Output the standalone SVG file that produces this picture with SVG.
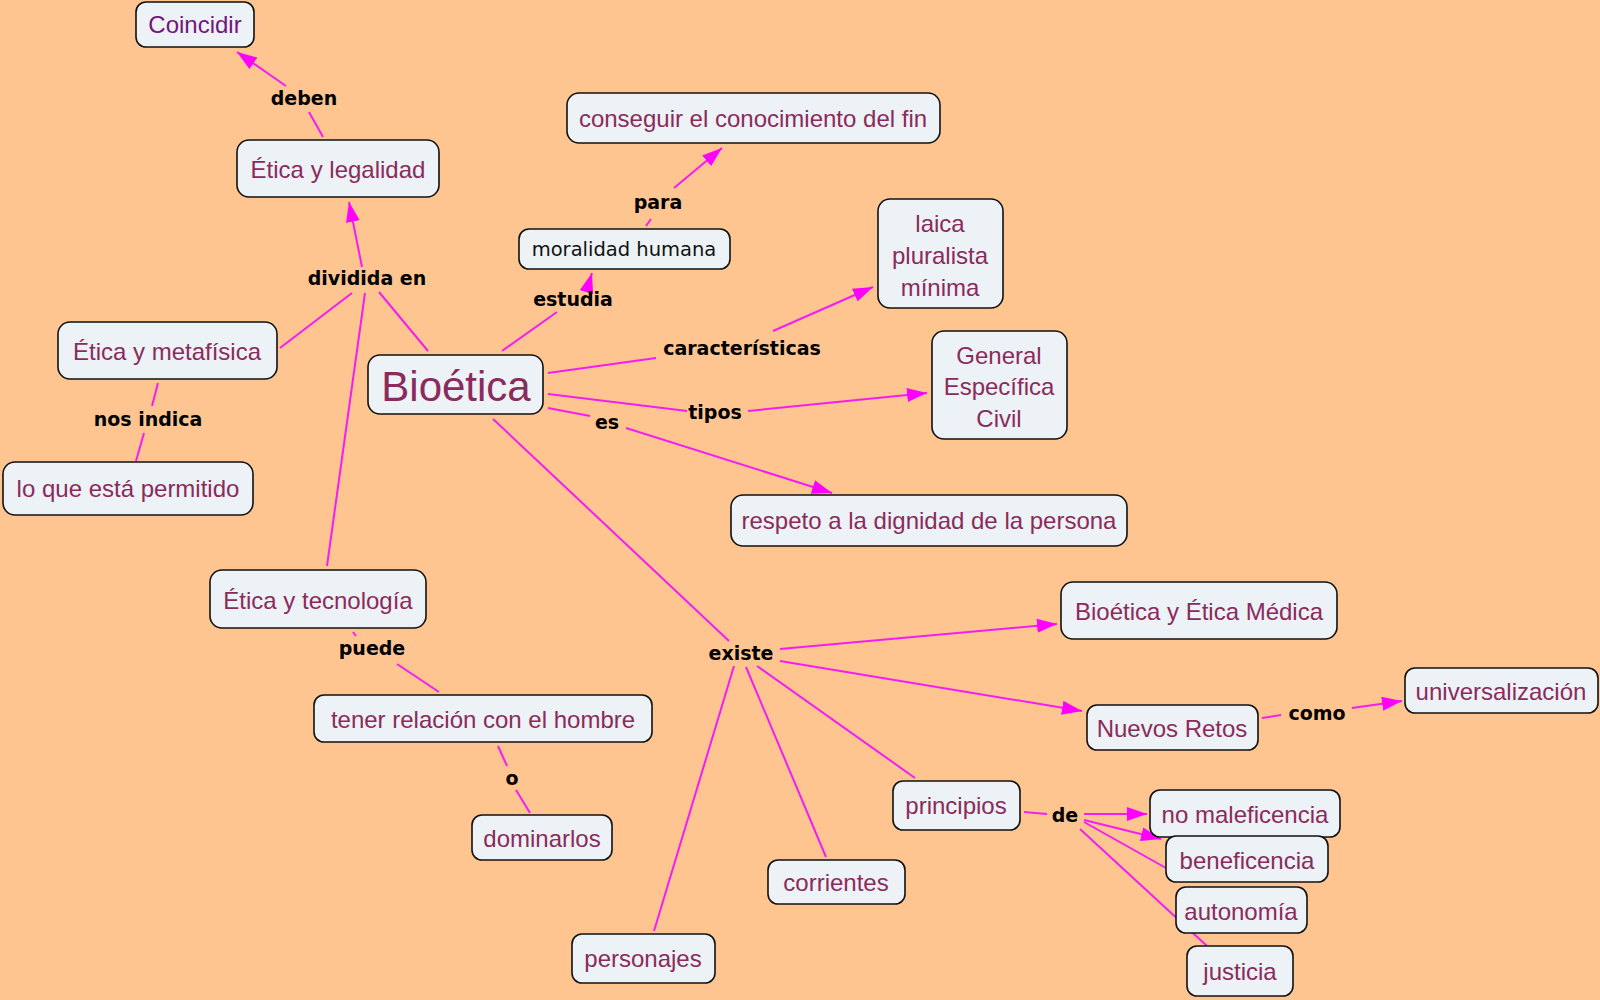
<svg xmlns="http://www.w3.org/2000/svg" width="1600" height="1000" viewBox="0 0 1600 1000">
<defs>
<marker id="ah" viewBox="0 0 20 14" refX="20" refY="7" markerWidth="20" markerHeight="14" orient="auto" markerUnits="userSpaceOnUse">
<path d="M0,0 L20,7 L0,14 z" fill="#ff00ff"/>
</marker>
<style>
.bg{fill:#fec591}
.n rect{fill:#edf2f6;stroke:#111;stroke-width:1.6}
.n text{font-family:"Liberation Sans","DejaVu Sans",sans-serif;font-size:24px;fill:#8a2b5c;text-anchor:middle;dominant-baseline:central}
.c line{stroke:#f21ef2;stroke-width:2;fill:none}
.c line.a{marker-end:url(#ah)}
.l text{font-family:"DejaVu Sans",sans-serif;font-weight:bold;font-size:19px;fill:#000;text-anchor:middle;dominant-baseline:central}
</style>
</defs>
<rect class="bg" x="0" y="0" width="1600" height="1000"/>
<g id="connectors" class="c">
<line x1="323" y1="137" x2="309" y2="112"/>
<line class="a" x1="286" y1="86" x2="237" y2="52"/>
<line x1="428" y1="351" x2="379" y2="292"/>
<line class="a" x1="362" y1="267" x2="349" y2="202"/>
<line x1="352" y1="293" x2="280" y2="348"/>
<line x1="365" y1="293" x2="327" y2="566"/>
<line x1="158" y1="383" x2="152" y2="406"/>
<line x1="144" y1="433" x2="136" y2="461"/>
<line x1="502" y1="351" x2="557" y2="312"/>
<line class="a" x1="587" y1="290" x2="592" y2="273"/>
<line x1="646" y1="226" x2="651" y2="219"/>
<line class="a" x1="674" y1="188" x2="722" y2="148"/>
<line x1="548" y1="373" x2="656" y2="358"/>
<line class="a" x1="773" y1="331" x2="873" y2="287"/>
<line x1="548" y1="394" x2="687" y2="411"/>
<line class="a" x1="748" y1="411" x2="927" y2="393"/>
<line x1="548" y1="408" x2="590" y2="416"/>
<line class="a" x1="626" y1="428" x2="832" y2="493"/>
<line x1="493" y1="419" x2="729" y2="641"/>
<line class="a" x1="780" y1="649" x2="1057" y2="624"/>
<line class="a" x1="780" y1="661" x2="1082" y2="711"/>
<line x1="757" y1="666" x2="915" y2="778"/>
<line x1="746" y1="667" x2="826" y2="857"/>
<line x1="734" y1="666" x2="654" y2="931"/>
<line x1="1262" y1="718" x2="1281" y2="715"/>
<line class="a" x1="1352" y1="708" x2="1402" y2="701"/>
<line x1="1024" y1="812" x2="1047" y2="814"/>
<line class="a" x1="1084" y1="814" x2="1147" y2="814"/>
<line class="a" x1="1084" y1="820" x2="1161" y2="839"/>
<line x1="1084" y1="822" x2="1166" y2="868"/>
<line x1="1080" y1="829" x2="1207" y2="946"/>
<line x1="353" y1="632" x2="356" y2="636"/>
<line x1="397" y1="664" x2="439" y2="692"/>
<line x1="498" y1="746" x2="507" y2="766"/>
<line x1="516" y1="790" x2="530" y2="813"/>
</g>
<g id="labels" class="l">
<text x="304" y="98">deben</text>
<text x="367" y="278">dividida en</text>
<text x="573" y="299">estudia</text>
<text x="658" y="202">para</text>
<text x="742" y="348">características</text>
<text x="715" y="412">tipos</text>
<text x="607" y="422">es</text>
<text x="148" y="419">nos indica</text>
<text x="372" y="648">puede</text>
<text x="512" y="778">o</text>
<text x="741" y="653">existe</text>
<text x="1317" y="713">como</text>
<text x="1065" y="815">de</text>
</g>
<g id="n-coincidir" class="n"><rect x="136" y="2" width="118" height="45" rx="10"/><text x="195" y="24" style="fill:#74157a">Coincidir</text></g>
<g id="n-etica-legalidad" class="n"><rect x="237" y="140" width="202" height="57" rx="12"/><text x="338" y="169">Ética y legalidad</text></g>
<g id="n-conseguir" class="n"><rect x="567" y="93" width="373" height="50" rx="12"/><text x="753" y="118">conseguir el conocimiento del fin</text></g>
<g id="n-moralidad" class="n"><rect x="519" y="229" width="211" height="40" rx="10"/><text x="624" y="249" style="font-family:'DejaVu Sans',sans-serif;font-size:19.5px;fill:#111">moralidad humana</text></g>
<g id="n-laica" class="n"><rect x="878" y="199" width="125" height="109" rx="12"/><text x="940" y="223">laica</text><text x="940" y="255">pluralista</text><text x="940" y="287">mínima</text></g>
<g id="n-etica-metafisica" class="n"><rect x="58" y="322" width="219" height="57" rx="12"/><text x="167" y="351">Ética y metafísica</text></g>
<g id="n-bioetica" class="n"><rect x="368" y="355" width="175" height="59" rx="12"/><text x="456" y="386" style="font-size:42px">Bioética</text></g>
<g id="n-general" class="n"><rect x="932" y="331" width="135" height="108" rx="12"/><text x="999" y="355">General</text><text x="999" y="386">Específica</text><text x="999" y="418">Civil</text></g>
<g id="n-permitido" class="n"><rect x="3" y="462" width="250" height="53" rx="12"/><text x="128" y="488">lo que está permitido</text></g>
<g id="n-respeto" class="n"><rect x="731" y="495" width="396" height="51" rx="12"/><text x="929" y="520">respeto a la dignidad de la persona</text></g>
<g id="n-etica-tecnologia" class="n"><rect x="210" y="570" width="216" height="58" rx="12"/><text x="318" y="600">Ética y tecnología</text></g>
<g id="n-bioetica-medica" class="n"><rect x="1061" y="582" width="276" height="57" rx="12"/><text x="1199" y="611">Bioética y Ética Médica</text></g>
<g id="n-universalizacion" class="n"><rect x="1405" y="668" width="193" height="45" rx="10"/><text x="1501" y="691">universalización</text></g>
<g id="n-tener-relacion" class="n"><rect x="314" y="695" width="338" height="47" rx="10"/><text x="483" y="719">tener relación con el hombre</text></g>
<g id="n-nuevos-retos" class="n"><rect x="1087" y="705" width="171" height="45" rx="10"/><text x="1172" y="728">Nuevos Retos</text></g>
<g id="n-principios" class="n"><rect x="893" y="781" width="127" height="49" rx="10"/><text x="956" y="805">principios</text></g>
<g id="n-no-maleficencia" class="n"><rect x="1150" y="790" width="190" height="47" rx="10"/><text x="1245" y="814">no maleficencia</text></g>
<g id="n-beneficencia" class="n"><rect x="1166" y="836" width="162" height="46" rx="10"/><text x="1247" y="860">beneficencia</text></g>
<g id="n-autonomia" class="n"><rect x="1176" y="887" width="131" height="46" rx="10"/><text x="1241" y="911">autonomía</text></g>
<g id="n-justicia" class="n"><rect x="1187" y="946" width="106" height="50" rx="10"/><text x="1240" y="971">justicia</text></g>
<g id="n-dominarlos" class="n"><rect x="472" y="815" width="140" height="45" rx="10"/><text x="542" y="838">dominarlos</text></g>
<g id="n-corrientes" class="n"><rect x="768" y="860" width="137" height="44" rx="10"/><text x="836" y="882">corrientes</text></g>
<g id="n-personajes" class="n"><rect x="572" y="934" width="143" height="49" rx="10"/><text x="643" y="958">personajes</text></g>
</svg>
